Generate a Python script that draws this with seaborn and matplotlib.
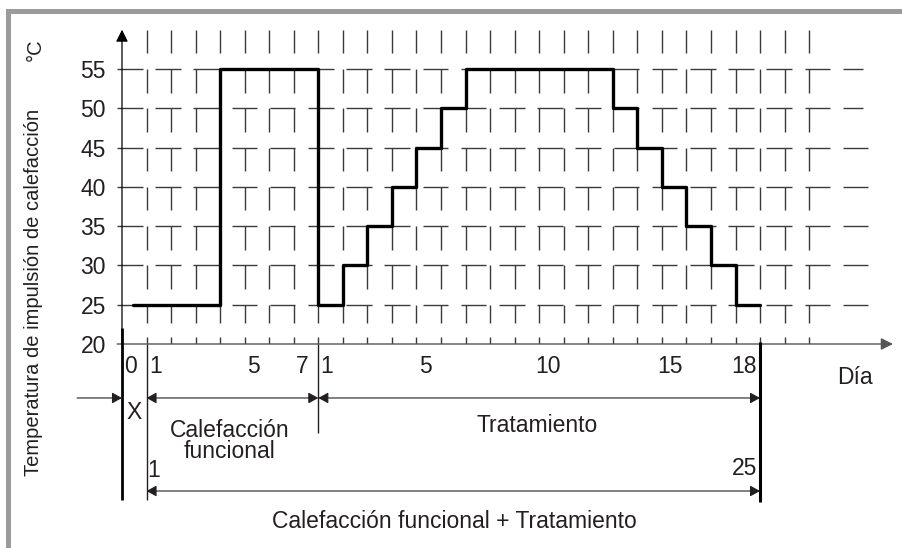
import numpy as np
import pandas as pd
import matplotlib
matplotlib.use("Agg")
import matplotlib.pyplot as plt
import seaborn as sns
from matplotlib.patches import Rectangle

# ---------------- data ----------------
func_days = [1, 2, 3, 4, 5, 6, 7]                      # Calefacción funcional
func_temp = [25, 25, 25, 55, 55, 55, 55]
treat_days = list(range(1, 19))                         # Tratamiento
treat_temp = [25, 30, 35, 40, 45, 50, 55, 55, 55, 55, 55, 55,
              50, 45, 40, 35, 30, 25]
y_ticks = [20, 25, 30, 35, 40, 45, 50, 55]
func_tick_days = [0, 1, 5, 7]
treat_tick_days = [1, 5, 10, 15, 18]
line_start = 0.45          # curve starts inside the "X" day
grid_levels = [60, 55, 50, 45, 40, 35, 30, 25]
hline_levels = [55, 50, 45, 40, 35, 30, 25]

# ---------------- style ----------------
sns.set_style("white")
plt.rcParams["font.family"] = ["Liberation Sans", "DejaVu Sans"]
INK = "#231f20"
GRID = "#3a3a3a"
FS = 16.5

W, H = 903, 548
PX_X = 24.54      # px per day
fig = plt.figure(figsize=(W / 100, H / 100), dpi=100)
ax = fig.add_axes([122 / W, 204 / H, 771 / W, (344 - 29.7) / H])
ax.set_xlim(0, 771 / PX_X)
ax.set_ylim(20, 60)
for s in ax.spines.values():
    s.set_visible(False)

# positions in day units: X day = [0,1], functional day d = [d, d+1], treatment day j = [7+j, 8+j]
n_func = len(func_days)
func_start = [d for d in func_days]
treat_start = [n_func + j for j in treat_days]
end_pos = treat_start[-1] + 1

# ---------------- grid (dashed cross pattern) ----------------
bounds = np.arange(1, 29)
for L in grid_levels:
    seg = 2.3 if L == 25 else 3.0
    ax.vlines(bounds, L - seg, L, color=GRID, lw=1.0, zorder=1)
ax.vlines(bounds, 20, 20.9, color=GRID, lw=1.0, zorder=1)

period, dash = 38.2 / PX_X, 25.5 / PX_X
for L in hline_levels:
    stop = 30.2 if L >= 50 else 30.56
    starts = np.arange(-0.2, stop, period)
    ends = np.minimum(starts + dash, stop)
    ax.hlines([L] * len(starts), starts, ends, color=GRID, lw=1.0, zorder=1, clip_on=False)

# ---------------- temperature curve ----------------
xs = [line_start] + func_start[1:] + treat_start + [end_pos]
ys = func_temp + treat_temp + [treat_temp[-1]]
df = pd.DataFrame({"pos": xs, "temp": ys})
sns.lineplot(data=df, x="pos", y="temp", drawstyle="steps-post", color="black",
             lw=2.4, ax=ax, sort=False, estimator=None, zorder=5)
ax.set_xlabel("")
ax.set_ylabel("")

# ---------------- axes with arrows ----------------
ax.annotate("", xy=(0, 60), xytext=(0, 20),
            arrowprops=dict(arrowstyle="-|>,head_length=0.4,head_width=0.2", color="black",
                            lw=0.9, mutation_scale=18, shrinkA=0, shrinkB=0),
            annotation_clip=False)
ax.annotate("", xy=(771 / PX_X, 20), xytext=(-0.2, 20),
            arrowprops=dict(arrowstyle="-|>,head_length=0.4,head_width=0.2", color="#555555",
                            lw=1.0, mutation_scale=18, shrinkA=0, shrinkB=0),
            annotation_clip=False)

# ticks
ax.set_yticks(y_ticks)
ax.set_yticklabels([str(v) for v in y_ticks])
xt = [d + 0.35 for d in func_tick_days] + [n_func + j + 0.35 for j in treat_tick_days]
ax.set_xticks(xt)
ax.set_xticklabels([str(d) for d in func_tick_days] + [str(j) for j in treat_tick_days])
ax.tick_params(axis="y", length=0, pad=11.5, labelsize=FS, labelcolor=INK)
ax.tick_params(axis="x", length=0, pad=8.0, labelsize=FS, labelcolor=INK)

ax.text(29.87, 14.9, "Día", fontsize=FS, color=INK, ha="center", va="baseline")
ax.text(-3.55, 57.4, "°C", fontsize=14.5, color=INK, ha="center", va="center", rotation=90)
ax.text(-3.6, 26.6, "Temperatura de impulsión de calefacción", fontsize=14.5, color=INK,
        ha="center", va="center", rotation=90)

# ---------------- phase annotations below ----------------
kw = dict(clip_on=False, zorder=3)
ax.vlines([0], 0.14, 22.0, color="black", lw=2.0, **kw)
ax.vlines([1], 0.14, 20.0, color=INK, lw=1.0, **kw)
ax.vlines([n_func + 1], 8.67, 20.0, color=INK, lw=1.0, **kw)
ax.vlines([end_pos], -0.1, 20.25, color="black", lw=2.2, **kw)

arr = "-|>,head_length=0.4,head_width=0.22"
darr = "<|-|>,head_length=0.4,head_width=0.22"
ap = dict(color=INK, lw=0.8, mutation_scale=15, shrinkA=0, shrinkB=0)
row = 13.13
ax.annotate("", xy=(0, row), xytext=(-1.83, row), arrowprops=dict(arrowstyle=arr, **ap),
            annotation_clip=False)
ax.annotate("", xy=(1, row), xytext=(n_func + 1, row), arrowprops=dict(arrowstyle=darr, **ap),
            annotation_clip=False)
ax.annotate("", xy=(n_func + 1, row), xytext=(end_pos, row), arrowprops=dict(arrowstyle=darr, **ap),
            annotation_clip=False)
ax.annotate("", xy=(1, 1.29), xytext=(end_pos, 1.29), arrowprops=dict(arrowstyle=darr, **ap),
            annotation_clip=False)

tk = dict(fontsize=FS, color=INK, va="baseline")
ax.text(0.5, 10.45, "X", ha="center", **tk)
ax.text(4.4, 8.16, "Calefacción", ha="center", **tk)
ax.text(4.4, 5.49, "funcional", ha="center", **tk)
ax.text(16.9, 8.8, "Tratamiento", ha="center", **tk)
ax.text(1.27, 3.07, "1", ha="center", **tk)
ax.text(25.88, 3.33, "25", ha="right", **tk)
ax.text(13.53, -3.42, "Calefacción funcional + Tratamiento", ha="center", **tk)

# ---------------- outer frame ----------------
fig.add_artist(Rectangle((8 / W, -0.2), 1.2, (H - 11) / H + 0.2, transform=fig.transFigure,
                         fill=False, edgecolor="#9b9b9b", lw=3.6, clip_on=False))

fig.savefig("out.png", dpi=100)
